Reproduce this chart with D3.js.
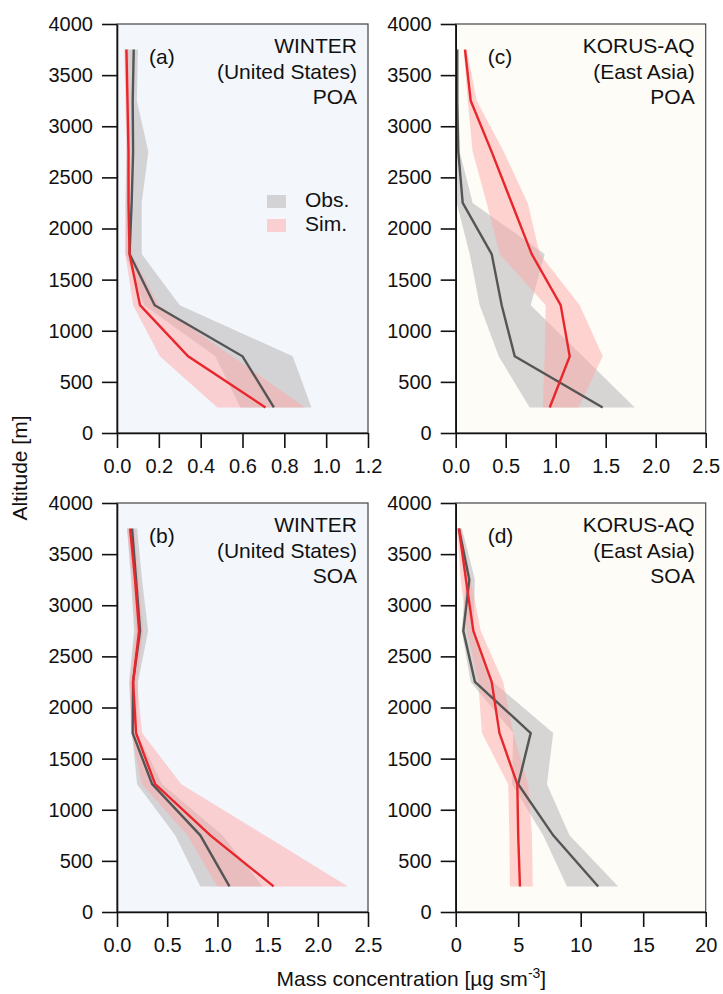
<!DOCTYPE html>
<html>
<head>
<meta charset="utf-8">
<script src="https://cdn.jsdelivr.net/npm/d3@7"></script>
<style>
  body { margin: 0; background: #fff; }
  svg { display: block; font-family: "Liberation Sans", Arial, sans-serif; }
</style>
</head>
<body>
<div id="chart"></div>
<script>
// Altitude bins (m)
const altitude = [250, 750, 1250, 1750, 2250, 2750, 3250, 3750];

// (a) WINTER POA
const winterPoaObs   = [0.75, 0.60, 0.18, 0.06, 0.07, 0.077, 0.075, 0.08];
const winterPoaObsLo = [0.59, 0.47, 0.13, 0.04, 0.04, 0.046, 0.05, 0.046];
const winterPoaObsHi = [0.93, 0.84, 0.30, 0.118, 0.118, 0.15, 0.095, 0.10];
const winterPoaSim   = [0.71, 0.34, 0.11, 0.06, 0.055, 0.055, 0.05, 0.045];
const winterPoaSimLo = [0.48, 0.205, 0.077, 0.04, 0.045, 0.045, 0.04, 0.035];
const winterPoaSimHi = [0.90, 0.55, 0.20, 0.07, 0.065, 0.065, 0.06, 0.055];

// (b) WINTER SOA
const winterSoaObs   = [1.12, 0.83, 0.35, 0.156, 0.16, 0.23, 0.19, 0.15];
const winterSoaObsLo = [0.83, 0.58, 0.20, 0.15, 0.12, 0.17, 0.14, 0.10];
const winterSoaObsHi = [1.45, 1.05, 0.45, 0.20, 0.21, 0.31, 0.25, 0.20];
const winterSoaSim   = [1.56, 0.93, 0.38, 0.19, 0.16, 0.22, 0.18, 0.13];
const winterSoaSimLo = [1.00, 0.70, 0.25, 0.14, 0.13, 0.19, 0.15, 0.10];
const winterSoaSimHi = [2.30, 1.47, 0.64, 0.25, 0.20, 0.26, 0.22, 0.17];

// (c) KORUS-AQ POA
const korusPoaObs   = [1.47, 0.59, 0.46, 0.36, 0.07, 0.026, 0.015, 0.015];
const korusPoaObsLo = [0.74, 0.43, 0.24, 0.14, 0.01, 0.0, 0.0, 0.0];
const korusPoaObsHi = [1.79, 1.27, 0.75, 0.89, 0.17, 0.04, 0.03, 0.03];
const korusPoaSim   = [0.94, 1.14, 1.05, 0.76, 0.56, 0.36, 0.15, 0.093];
const korusPoaSimLo = [0.87, 0.89, 0.90, 0.44, 0.31, 0.17, 0.12, 0.08];
const korusPoaSimHi = [1.23, 1.47, 1.24, 0.84, 0.72, 0.48, 0.21, 0.11];

// (d) KORUS-AQ SOA
const korusSoaObs   = [11.4, 7.8, 5.0, 6.0, 1.54, 0.61, 1.09, 0.26];
const korusSoaObsLo = [8.9, 7.0, 4.5, 4.6, 1.2, 0.48, 0.8, 0.1];
const korusSoaObsHi = [13.0, 9.1, 7.3, 7.8, 3.0, 1.41, 1.54, 0.5];
const korusSoaSim   = [5.14, 5.0, 4.93, 3.5, 2.88, 1.41, 0.82, 0.26];
const korusSoaSimLo = [4.34, 4.3, 4.2, 2.1, 1.8, 0.9, 0.4, 0.1];
const korusSoaSimHi = [6.16, 6.1, 5.8, 4.6, 3.8, 2.0, 1.2, 0.4];

const xTicksA = [0, 0.2, 0.4, 0.6, 0.8, 1.0, 1.2];
const xTicksB = [0, 0.5, 1.0, 1.5, 2.0, 2.5];
const xTicksC = [0, 0.5, 1.0, 1.5, 2.0, 2.5];
const xTicksD = [0, 5, 10, 15, 20];
const yTicks = [0, 500, 1000, 1500, 2000, 2500, 3000, 3500, 4000];

const W = 723, H = 994;
const svg = d3.select("#chart").append("svg")
  .attr("width", W)
  .attr("height", H);

const colLeft = [117, 368], colRight = [455.7, 705.7];
const rowTop = [24, 433], rowBottom = [503, 912];

const zip = (lo, hi) => altitude.map((a, i) => ({ alt: a, lo: lo[i], hi: hi[i] }));
const pts = v => altitude.map((a, i) => ({ alt: a, v: v[i] }));

const panels = [
  { col: colLeft, row: rowTop, xmax: 1.2, ticks: xTicksA, fmt: d3.format(".1f"),
    bg: "#f3f6fb", tag: "(a)", title: ["WINTER", "(United States)", "POA"],
    obs: winterPoaObs, obsLo: winterPoaObsLo, obsHi: winterPoaObsHi,
    sim: winterPoaSim, simLo: winterPoaSimLo, simHi: winterPoaSimHi, legend: true },
  { col: colRight, row: rowTop, xmax: 2.5, ticks: xTicksC, fmt: d3.format(".1f"),
    bg: "#fdfcf7", tag: "(c)", title: ["KORUS-AQ", "(East Asia)", "POA"],
    obs: korusPoaObs, obsLo: korusPoaObsLo, obsHi: korusPoaObsHi,
    sim: korusPoaSim, simLo: korusPoaSimLo, simHi: korusPoaSimHi },
  { col: colLeft, row: rowBottom, xmax: 2.5, ticks: xTicksB, fmt: d3.format(".1f"),
    bg: "#f3f6fb", tag: "(b)", title: ["WINTER", "(United States)", "SOA"],
    obs: winterSoaObs, obsLo: winterSoaObsLo, obsHi: winterSoaObsHi,
    sim: winterSoaSim, simLo: winterSoaSimLo, simHi: winterSoaSimHi },
  { col: colRight, row: rowBottom, xmax: 20, ticks: xTicksD, fmt: d3.format("d"),
    bg: "#fdfcf7", tag: "(d)", title: ["KORUS-AQ", "(East Asia)", "SOA"],
    obs: korusSoaObs, obsLo: korusSoaObsLo, obsHi: korusSoaObsHi,
    sim: korusSoaSim, simLo: korusSoaSimLo, simHi: korusSoaSimHi }
];

const obsBand = "#c4c4c4", simBand = "#ffa8a8";
const obsLine = "#555555", simLine = "#e8262c";

panels.forEach(p => {
  const x = d3.scaleLinear().domain([0, p.xmax]).range(p.col);
  const y = d3.scaleLinear().domain([0, 4000]).range([p.row[1], p.row[0]]);
  const g = svg.append("g");

  // background + frame
  g.append("rect")
    .attr("x", p.col[0]).attr("y", p.row[0])
    .attr("width", p.col[1] - p.col[0]).attr("height", p.row[1] - p.row[0])
    .attr("fill", p.bg)
    .attr("stroke", "#444")
    .attr("stroke-width", 1.2);

  const area = d3.area()
    .y(d => y(d.alt))
    .x0(d => x(d.lo))
    .x1(d => x(d.hi));
  const line = d3.line()
    .x(d => x(d.v))
    .y(d => y(d.alt));

  g.append("path").datum(zip(p.obsLo, p.obsHi))
    .attr("d", area).attr("fill", obsBand).attr("opacity", 0.7);
  g.append("path").datum(zip(p.simLo, p.simHi))
    .attr("d", area).attr("fill", simBand).attr("opacity", 0.5);
  g.append("path").datum(pts(p.obs))
    .attr("d", line).attr("fill", "none")
    .attr("stroke", obsLine).attr("stroke-width", 2.4);
  g.append("path").datum(pts(p.sim))
    .attr("d", line).attr("fill", "none")
    .attr("stroke", simLine).attr("stroke-width", 2.4);

  // axes
  const xAxis = g.append("g")
    .attr("transform", `translate(0,${p.row[1]})`)
    .call(d3.axisBottom(x).tickValues(p.ticks).tickFormat(p.fmt).tickSize(15).tickPadding(11).tickSizeOuter(0));
  const yAxis = g.append("g")
    .attr("transform", `translate(${p.col[0]},0)`)
    .call(d3.axisLeft(y).tickValues(yTicks).tickFormat(d3.format("d")).tickSize(15).tickPadding(9).tickSizeOuter(0));
  [xAxis, yAxis].forEach(a => {
    a.selectAll("path").attr("stroke", "#111").attr("stroke-width", 1.6);
    a.selectAll("line").attr("stroke", "#111").attr("stroke-width", 1.6);
    a.selectAll("text").attr("fill", "#111").style("font-size", "20px")
      .style("font-family", "'Liberation Sans', Arial, sans-serif");
  });

  // panel tag and title
  g.append("text")
    .attr("x", p.col[0] + 32).attr("y", p.row[0] + 40)
    .attr("font-size", 21).attr("fill", "#111")
    .text(p.tag);
  p.title.forEach((t, i) => {
    g.append("text")
      .attr("x", p.col[1] - 11).attr("y", p.row[0] + 29 + i * 25.5)
      .attr("text-anchor", "end")
      .attr("font-size", 21).attr("fill", "#111")
      .text(t);
  });

  if (p.legend) {
    const items = [["Obs.", obsBand, 0.7], ["Sim.", simBand, 0.5]];
    items.forEach(([lab, c, op], i) => {
      const ly = p.row[0] + 171 + i * 24;
      g.append("rect")
        .attr("x", p.col[0] + 150).attr("y", ly)
        .attr("width", 19).attr("height", 13)
        .attr("fill", c).attr("opacity", op);
      g.append("text")
        .attr("x", p.col[0] + 188).attr("y", ly + 12)
        .attr("font-size", 21).attr("fill", "#111")
        .text(lab);
    });
  }
});

// axis titles
svg.append("text")
  .attr("transform", `translate(27,${(rowTop[0] + rowBottom[1]) / 2}) rotate(-90)`)
  .attr("text-anchor", "middle")
  .attr("font-size", 21).attr("fill", "#111")
  .text("Altitude [m]");

const xt = svg.append("text")
  .attr("x", (colLeft[0] + colRight[1]) / 2).attr("y", 986)
  .attr("text-anchor", "middle")
  .attr("font-size", 21).attr("fill", "#111");
xt.append("tspan").text("Mass concentration [µg sm");
xt.append("tspan").attr("dy", -8).attr("font-size", 14).text("-3");
xt.append("tspan").attr("dy", 8).text("]");
</script>
</body>
</html>
